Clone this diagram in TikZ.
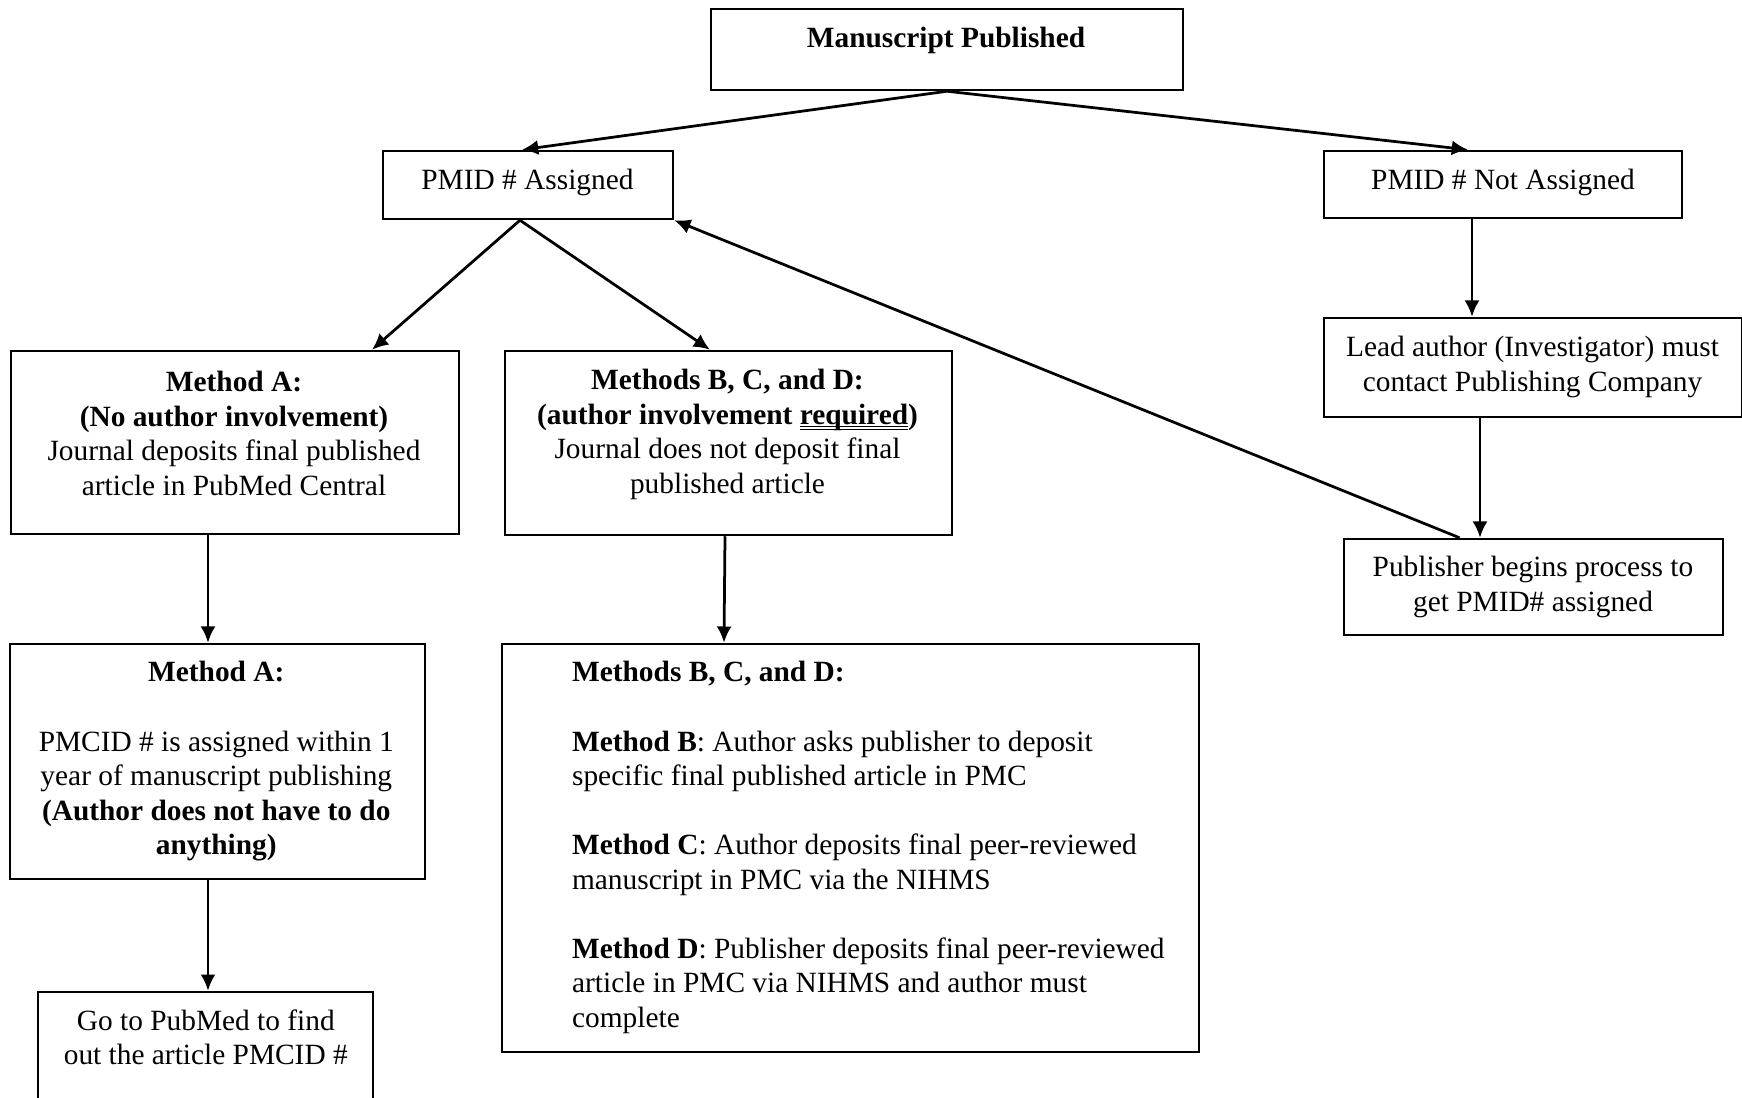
\documentclass[tikz,border=0pt]{standalone}
\usepackage{fontspec}
\setmainfont{Liberation Serif}
\usetikzlibrary{arrows.meta}

\newlength{\du}
\setlength{\du}{0.4pt}
\newcommand{\dblul}[1]{\setbox0\hbox{#1}\rlap{\rule[-1.1pt]{\wd0}{0.45pt}}\rlap{\rule[-2.3pt]{\wd0}{0.45pt}}\box0}

\tikzset{
  blk/.style={draw, rectangle, line width=1pt, inner sep=0pt},
  txt/.style={inner sep=0pt, align=center, anchor=base, font=\fontsize{11.75}{13.8}\selectfont,
    execute at begin node={\spaceskip=2.94pt\xspaceskip=2.94pt\relax}},
  ltxt/.style={txt, align=left, anchor=base west},
  arr/.style={line width=1.1pt, -{Latex[length=6.5pt,width=6pt]}},
}

\begin{document}
\begin{tikzpicture}
\pgftransformxscale{1.000000}
\pgftransformyscale{-1.000000}
\useasboundingbox (0\du,0\du) rectangle (1742\du,1098\du);

% boxes
\node[blk, minimum width=472\du, minimum height=81\du] (pub) at (947\du,49.5\du) {};
\node[blk, minimum width=290\du, minimum height=68\du] (asg) at (528\du,185\du) {};
\node[blk, minimum width=358\du, minimum height=67\du] (nasg) at (1503\du,184.5\du) {};
\node[blk, minimum width=448\du, minimum height=183\du] (mtha) at (235\du,442.5\du) {};
\node[blk, minimum width=447\du, minimum height=184\du] (mthb) at (728.5\du,443\du) {};
\node[blk, minimum width=418\du, minimum height=99\du] (lead) at (1533\du,367.5\du) {};
\node[blk, minimum width=379\du, minimum height=96\du] (pprc) at (1533.5\du,587\du) {};
\node[blk, minimum width=415\du, minimum height=235\du] (mthalow) at (217.5\du,761.5\du) {};
\node[blk, minimum width=697\du, minimum height=408\du] (mthblow) at (850.5\du,848\du) {};
\node[blk, minimum width=335\du, minimum height=123\du] (gopm) at (205.5\du,1053.5\du) {};

% setfont left to latex
\node[txt, text width=440\du] (pubtxt) at (946\du,48\du) {\textbf{Manuscript Published}};
\node[txt, text width=280\du] (asgtxt) at (527.5\du,190\du) {PMID \# Assigned};
\node[txt, text width=350\du] (nasgtxt) at (1503\du,190\du) {PMID \# Not Assigned};
\node[txt, text width=440\du] (mthatxt) at (234\du,392\du)
  {\textbf{Method A:}\\ \textbf{(No author involvement)}\\ Journal deposits final published\\ article in PubMed Central};
\node[txt, text width=440\du] (mthbtxt) at (727.5\du,390\du)
  {\textbf{Methods B, C, and D:}\\ \textbf{(author involvement \dblul{required})}\\ Journal does not deposit final\\ published article};
\node[txt, text width=415\du] (leadtxt) at (1532.5\du,357\du)
  {Lead author (Investigator) must\\ contact Publishing Company};
\node[txt, text width=375\du] (pprctxt) at (1533\du,577\du)
  {Publisher begins process to\\ get PMID\# assigned};
\node[txt, text width=405\du] (mthalowtxt) at (216.3\du,682\du)
  {\textbf{Method A:}\\[13.8pt] PMCID \# is assigned within 1\\ year of manuscript publishing\\ \textbf{(Author does not have to do}\\ \textbf{anything)}};
\node[txt, text width=330\du] (gopmtxt) at (205.8\du,1030\du)
  {Go to PubMed to find\\ out the article PMCID \#};
\node[ltxt, text width=620\du] (mthblowtxt) at (571.6\du,682\du)
  {\textbf{Methods B, C, and D:}\\[13.8pt]
   \textbf{Method B}: Author asks publisher to deposit\\ specific final published article in PMC\\[13.8pt]
   \textbf{Method C}: Author deposits final peer-reviewed\\ manuscript in PMC via the NIHMS\\[13.8pt]
   \textbf{Method D}: Publisher deposits final peer-reviewed\\ article in PMC via NIHMS and author must\\ complete};

% connectors
\draw[arr] (pub.south) -- ([xshift=-6\du]asg.north);
\draw[arr] (pub.south) -- ([xshift=-35\du]nasg.north);
\draw[arr] ([xshift=-8\du]asg.south) -- ([xshift=137\du]mtha.north);
\draw[arr] ([xshift=-8\du]asg.south) -- ([xshift=-18.5\du]mthb.north);
\draw[arr] ([xshift=-74\du]pprc.north) -- (asg.south east);
\draw[arr] ([xshift=-31\du]nasg.south) -- ([xshift=-61\du]lead.north);
\draw[arr] ([xshift=-53\du]lead.south) -- ([xshift=-53.5\du]pprc.north);
\draw[arr] ([xshift=-27\du]mtha.south) -- ([xshift=-9.5\du]mthalow.north);
\draw[arr] ([xshift=-9.5\du]mthalow.south) -- ([xshift=2.5\du]gopm.north);
\draw[arr] ([xshift=-3.5\du]mthb.south) -- ([xshift=-126.5\du]mthblow.north);
\end{tikzpicture}
\end{document}
